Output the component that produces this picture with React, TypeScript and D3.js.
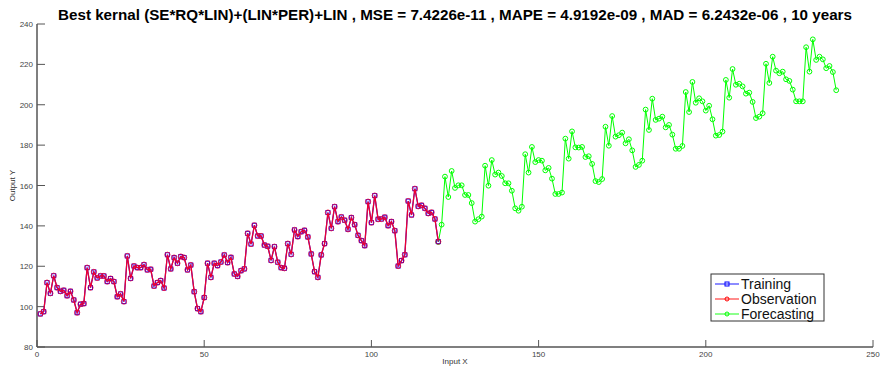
import React, { useEffect, useRef } from "react";
import * as d3 from "d3";

// monthly observations, x = 1..120
const observed: number[] = [
  96.4, 97.5, 111.9, 106.6, 115.3, 109.4, 107.6, 108.1, 105.4, 107.6,
  103.3, 97.0, 101.2, 101.5, 119.3, 109.4, 117.2, 114.2, 115.2, 115.2,
  112.4, 113.9, 112.4, 104.9, 106.3, 102.5, 125.1, 114.0, 120.1, 119.3,
  119.3, 120.8, 118.2, 118.5, 110.2, 111.9, 112.9, 109.2, 125.7, 118.7,
  124.3, 121.5, 124.8, 124.3, 118.2, 120.6, 107.4, 99.0, 97.5, 104.5,
  121.5, 114.5, 121.5, 120.3, 122.1, 125.6, 121.8, 124.4, 116.2, 115.0,
  117.8, 118.7, 136.3, 131.0, 140.3, 135.0, 135.0, 130.5, 129.9, 122.9,
  129.7, 122.0, 119.3, 119.0, 131.2, 125.9, 138.0, 134.7, 137.1, 137.8,
  134.5, 126.1, 117.3, 114.5, 125.6, 131.2, 146.6, 138.8, 149.5, 142.1,
  144.4, 142.8, 138.3, 144.1, 140.6, 135.3, 132.7, 130.2, 152.0, 141.6,
  155.0, 143.3, 143.4, 144.3, 140.1, 142.1, 137.6, 120.1, 122.8, 125.7,
  152.3, 145.4, 158.4, 149.7, 150.2, 148.7, 146.2, 146.7, 143.4, 132.2
];

// forecast, x = 120..239
const forecast: number[] = [
  132.0, 140.6, 164.4, 154.3, 167.2, 158.8, 160.1, 160.1, 155.3, 155.3,
  151.3, 142.1, 143.3, 144.6, 169.8, 159.9, 172.6, 165.4, 166.4, 164.7,
  161.1, 161.1, 157.4, 148.7, 147.5, 149.5, 175.5, 166.4, 179.1, 171.6,
  172.6, 172.3, 167.5, 168.7, 163.4, 155.8, 155.8, 156.5, 183.2, 173.3,
  186.8, 178.9, 178.8, 179.1, 174.1, 174.5, 170.7, 162.2, 161.7, 163.2,
  189.1, 179.7, 194.4, 184.2, 184.9, 186.2, 180.9, 182.9, 177.4, 169.2,
  170.2, 172.3, 197.6, 187.5, 203.0, 192.5, 193.1, 194.1, 188.8, 190.0,
  185.2, 178.2, 178.2, 179.6, 206.3, 196.4, 211.3, 201.0, 203.2, 201.7,
  197.1, 199.5, 192.8, 184.7, 185.0, 186.7, 212.3, 203.5, 217.7, 209.9,
  210.4, 209.1, 205.5, 206.0, 201.4, 193.4, 194.1, 195.8, 220.3, 210.8,
  223.8, 216.9, 215.6, 216.4, 212.6, 211.8, 207.5, 201.7, 201.7, 201.7,
  228.5, 216.4, 232.4, 222.2, 223.8, 222.5, 218.1, 219.2, 216.2, 207.2
];

const xTicks = [0, 50, 100, 150, 200, 250];
const yTicks = [80, 100, 120, 140, 160, 180, 200, 220, 240];
const legendItems = ["Training", "Observation", "Forecasting"];
const title =
  "Best kernal (SE*RQ*LIN)+(LIN*PER)+LIN , MSE = 7.4226e-11 , MAPE = 4.9192e-09 , MAD = 6.2432e-06 , 10 years";

const W = 882;
const H = 372;

const App: React.FC = () => {
  const svgRef = useRef<SVGSVGElement>(null);

  useEffect(() => {
    if (!svgRef.current) return;
    const svg = d3.select(svgRef.current);
    svg.selectAll("*").remove();

    const margin = { top: 24, right: 9, bottom: 25, left: 37 };
    const innerW = W - margin.left - margin.right;
    const innerH = H - margin.top - margin.bottom;

    const x = d3.scaleLinear().domain([0, 250]).range([0, innerW]);
    const y = d3.scaleLinear().domain([80, 240]).range([innerH, 0]);

    const g = svg.append("g").attr("transform", `translate(${margin.left},${margin.top})`);

    const obsPts = observed.map((v, i) => ({ x: i + 1, y: v }));
    const fcPts = forecast.map((v, i) => ({ x: i + 120, y: v }));

    const line = d3.line<{ x: number; y: number }>()
      .x(d => x(d.x))
      .y(d => y(d.y));

    // axes (MATLAB style: left + bottom, inward ticks)
    const axisColor = "#555";
    g.append("line").attr("x1", 0).attr("x2", 0).attr("y1", 0).attr("y2", innerH)
      .attr("stroke", axisColor).attr("stroke-width", 1.5);
    g.append("line").attr("x1", 0).attr("x2", innerW).attr("y1", innerH).attr("y2", innerH)
      .attr("stroke", axisColor).attr("stroke-width", 1.5);

    g.selectAll(".ytick").data(yTicks).join("line")
      .attr("x1", 0).attr("x2", 8)
      .attr("y1", d => y(d)).attr("y2", d => y(d))
      .attr("stroke", axisColor).attr("stroke-width", 1);
    g.selectAll(".ylab").data(yTicks).join("text")
      .attr("x", -4).attr("y", d => y(d) + 3)
      .attr("text-anchor", "end")
      .attr("fill", "#444")
      .style("font-family", "Liberation Sans, Arial, sans-serif")
      .style("font-size", "8px")
      .text(d => d);

    g.selectAll(".xtick").data(xTicks).join("line")
      .attr("x1", d => x(d)).attr("x2", d => x(d))
      .attr("y1", innerH).attr("y2", innerH - 7)
      .attr("stroke", axisColor).attr("stroke-width", 1);
    g.selectAll(".xlab").data(xTicks).join("text")
      .attr("x", d => x(d)).attr("y", innerH + 10)
      .attr("text-anchor", "middle")
      .attr("fill", "#444")
      .style("font-family", "Liberation Sans, Arial, sans-serif")
      .style("font-size", "8px")
      .text(d => d);

    g.append("text")
      .attr("x", innerW / 2).attr("y", innerH + 17)
      .attr("text-anchor", "middle")
      .attr("fill", "#333")
      .style("font-family", "Liberation Sans, Arial, sans-serif")
      .style("font-size", "8px")
      .text("Input X");

    g.append("text")
      .attr("transform", `translate(-22,${innerH / 2}) rotate(-90)`)
      .attr("text-anchor", "middle")
      .attr("fill", "#333")
      .style("font-family", "Liberation Sans, Arial, sans-serif")
      .style("font-size", "8px")
      .text("Output Y");

    // forecast
    g.append("path").datum(fcPts).attr("d", line)
      .attr("fill", "none").attr("stroke", "#00ff00").attr("stroke-width", 1);
    g.selectAll(".fc").data(fcPts).join("circle")
      .attr("cx", d => x(d.x)).attr("cy", d => y(d.y)).attr("r", 2.4)
      .attr("fill", "none").attr("stroke", "#00ff00").attr("stroke-width", 1);

    // training (blue squares) under observation (red circles)
    g.append("path").datum(obsPts).attr("d", line)
      .attr("fill", "none").attr("stroke", "#0000ff").attr("stroke-width", 1.2);
    g.selectAll(".tr").data(obsPts).join("rect")
      .attr("x", d => x(d.x) - 2).attr("y", d => y(d.y) - 2)
      .attr("width", 4).attr("height", 4)
      .attr("fill", "none").attr("stroke", "#0000ff").attr("stroke-width", 1);
    g.append("path").datum(obsPts).attr("d", line)
      .attr("fill", "none").attr("stroke", "#ff0022").attr("stroke-width", 1.3)
      .attr("opacity", 0.92);
    g.selectAll(".ob").data(obsPts).join("circle")
      .attr("cx", d => x(d.x)).attr("cy", d => y(d.y)).attr("r", 2.6)
      .attr("fill", "none").attr("stroke", "#ff0022").attr("stroke-width", 1)
      .attr("opacity", 0.8);

    // legend
    const colors = ["#0000ff", "#ff0000", "#00ff00"];
    const lg = svg.append("g").attr("transform", "translate(711,274)");
    lg.append("rect").attr("width", 113).attr("height", 47)
      .attr("fill", "#fff").attr("stroke", "#333").attr("stroke-width", 1);
    legendItems.forEach((name, i) => {
      const cy = 10 + i * 15;
      lg.append("line").attr("x1", 4).attr("x2", 28).attr("y1", cy).attr("y2", cy)
        .attr("stroke", colors[i]).attr("stroke-width", 1.5).attr("opacity", 0.6);
      if (i === 0) {
        lg.append("rect").attr("x", 14).attr("y", cy - 2).attr("width", 4).attr("height", 4)
          .attr("fill", "none").attr("stroke", colors[i]);
      } else {
        lg.append("circle").attr("cx", 16).attr("cy", cy).attr("r", 2)
          .attr("fill", "none").attr("stroke", colors[i]);
      }
      lg.append("text").attr("x", 30).attr("y", cy + 5)
        .style("font-family", "Liberation Sans, Arial, sans-serif")
        .style("font-size", "14px")
        .attr("fill", "#111")
        .text(name);
    });

    svg.append("text")
      .attr("x", margin.left + innerW / 2).attr("y", 20)
      .attr("text-anchor", "middle")
      .style("font-family", "Liberation Sans, Arial, sans-serif")
      .style("font-size", "15.2px")
      .style("font-weight", "bold")
      .text(title);
  }, []);

  return (
    <svg
      ref={svgRef}
      width={W}
      height={H}
      style={{ position: "absolute", left: 0, top: 0, background: "#fff" }}
    />
  );
};

export default App;
